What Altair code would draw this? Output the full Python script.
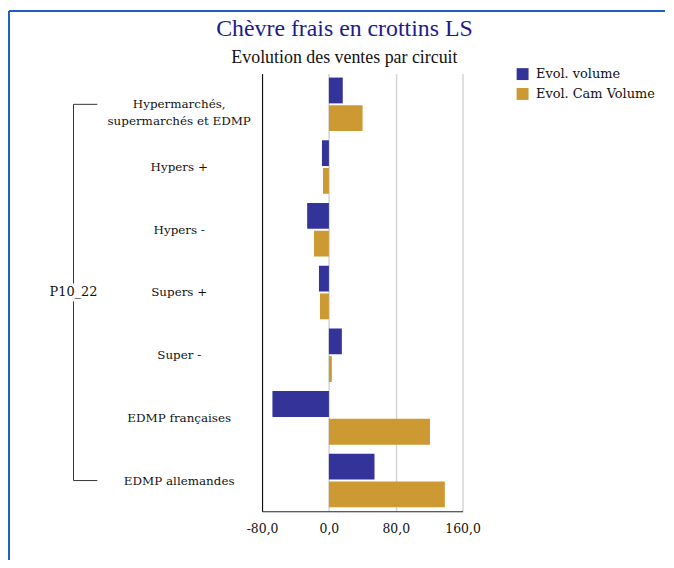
import altair as alt
import pandas as pd

categories = ["Hypermarchés, supermarchés et EDMP", "Hypers +", "Hypers -", "Supers +",
              "Super -", "EDMP françaises", "EDMP allemandes"]
series = ["Evol. volume", "Evol. Cam Volume"]
evol_volume = [16.6, -8.3, -26.0, -11.9, 15.5, -67.6, 54.6]
evol_cam_volume = [40.3, -7.1, -17.8, -10.7, 3.5, 121.0, 138.8]
x_ticks = [-80, 0, 80, 160]
colors = ["#333399", "#CC9933"]
title_text = "Chèvre frais en crottins LS"
subtitle_text = "Evolution des ventes par circuit"
group_label = "P10_22"

rows = []
for c, v1, v2 in zip(categories, evol_volume, evol_cam_volume):
    rows.append({"circuit": c, "serie": series[0], "valeur": v1})
    rows.append({"circuit": c, "serie": series[1], "valeur": v2})
df = pd.DataFrame(rows)
deco = pd.DataFrame({"k": [0]})

y_label_expr = ("datum.label == '" + categories[0] + "' ? ['Hypermarchés,', 'supermarchés et EDMP'] : datum.label")
x_label_expr = "(datum.value < 0 ? '-' : '') + replace(format(abs(datum.value), '.1f'), '.', ',')"

bars = alt.Chart(df).mark_bar().encode(
    x=alt.X("valeur:Q",
            scale=alt.Scale(domain=[-80, 160], nice=False),
            axis=alt.Axis(values=x_ticks, labelExpr=x_label_expr, title=None, grid=True,
                          gridColor="#d4d4d4", gridWidth=1.5, domainColor="#222222",
                          ticks=False, tickSize=0, labelPadding=11, labelFont="DejaVu Serif",
                          labelFontSize=12.5, labelColor="#111111", labelFlush=False,
                          labelOverlap=False)),
    y=alt.Y("circuit:N",
            scale=alt.Scale(domain=categories, paddingInner=0.146, paddingOuter=0.063),
            axis=alt.Axis(title=None, labelExpr=y_label_expr, labelAlign="center",
                          labelBaseline="middle", labelPadding=84, ticks=False, tickSize=0,
                          domainColor="#000000", labelFont="DejaVu Serif", labelFontSize=12,
                          labelLineHeight=17, labelLimit=300, grid=False, labelColor="#111111")),
    yOffset=alt.YOffset("serie:N", scale=alt.Scale(domain=series, paddingInner=0.07)),
    color=alt.Color("serie:N", scale=alt.Scale(domain=series, range=colors),
                    legend=alt.Legend(title=None, orient="none", legendX=256, legendY=-6,
                                      symbolType="square", symbolSize=144, symbolStrokeWidth=0,
                                      labelFont="DejaVu Serif", labelFontSize=13,
                                      labelOffset=7, rowPadding=6, padding=0,
                                      labelColor="#111111")),
)

border_color = "#1f5fbf"
border_left = alt.Chart(deco).mark_rule(color=border_color, strokeWidth=2).encode(
    x=alt.value(-255), y=alt.value(-63), y2=alt.value(490))
border_top = alt.Chart(deco).mark_rule(color=border_color, strokeWidth=2).encode(
    x=alt.value(-255), x2=alt.value(406), y=alt.value(-63))

br_color = "#333333"
br_v1 = alt.Chart(deco).mark_rule(color=br_color, y2Offset=-9).encode(
    x=alt.value(-190), y=alt.datum(categories[0]), y2=alt.datum(categories[3]))
br_v2 = alt.Chart(deco).mark_rule(color=br_color, yOffset=9).encode(
    x=alt.value(-190), y=alt.datum(categories[3]), y2=alt.datum(categories[6]))
br_h1 = alt.Chart(deco).mark_rule(color=br_color).encode(
    x=alt.value(-190), x2=alt.value(-166), y=alt.datum(categories[0]))
br_h2 = alt.Chart(deco).mark_rule(color=br_color).encode(
    x=alt.value(-190), x2=alt.value(-166), y=alt.datum(categories[6]))
br_text = alt.Chart(deco).mark_text(text=group_label, font="DejaVu Serif", fontSize=13,
                                    align="center", baseline="middle", color="#111111").encode(
    x=alt.value(-190), y=alt.datum(categories[3]))

title = alt.Chart(deco).mark_text(text=title_text, font="Liberation Serif", fontSize=24,
                                  color="#1c1c8c", align="center", baseline="alphabetic").encode(
    x=alt.value(83), y=alt.value(-38))
subtitle = alt.Chart(deco).mark_text(text=subtitle_text, font="Liberation Serif", fontSize=18,
                                     color="#111111", align="center", baseline="alphabetic").encode(
    x=alt.value(83), y=alt.value(-11))

chart = alt.layer(
    border_left, border_top, br_v1, br_v2, br_h1, br_h2, br_text, title, subtitle, bars
).properties(width=202, height=441, padding=0).configure_view(stroke=None)

chart.save("out.html", embed_options={"renderer": "svg", "actions": False})
